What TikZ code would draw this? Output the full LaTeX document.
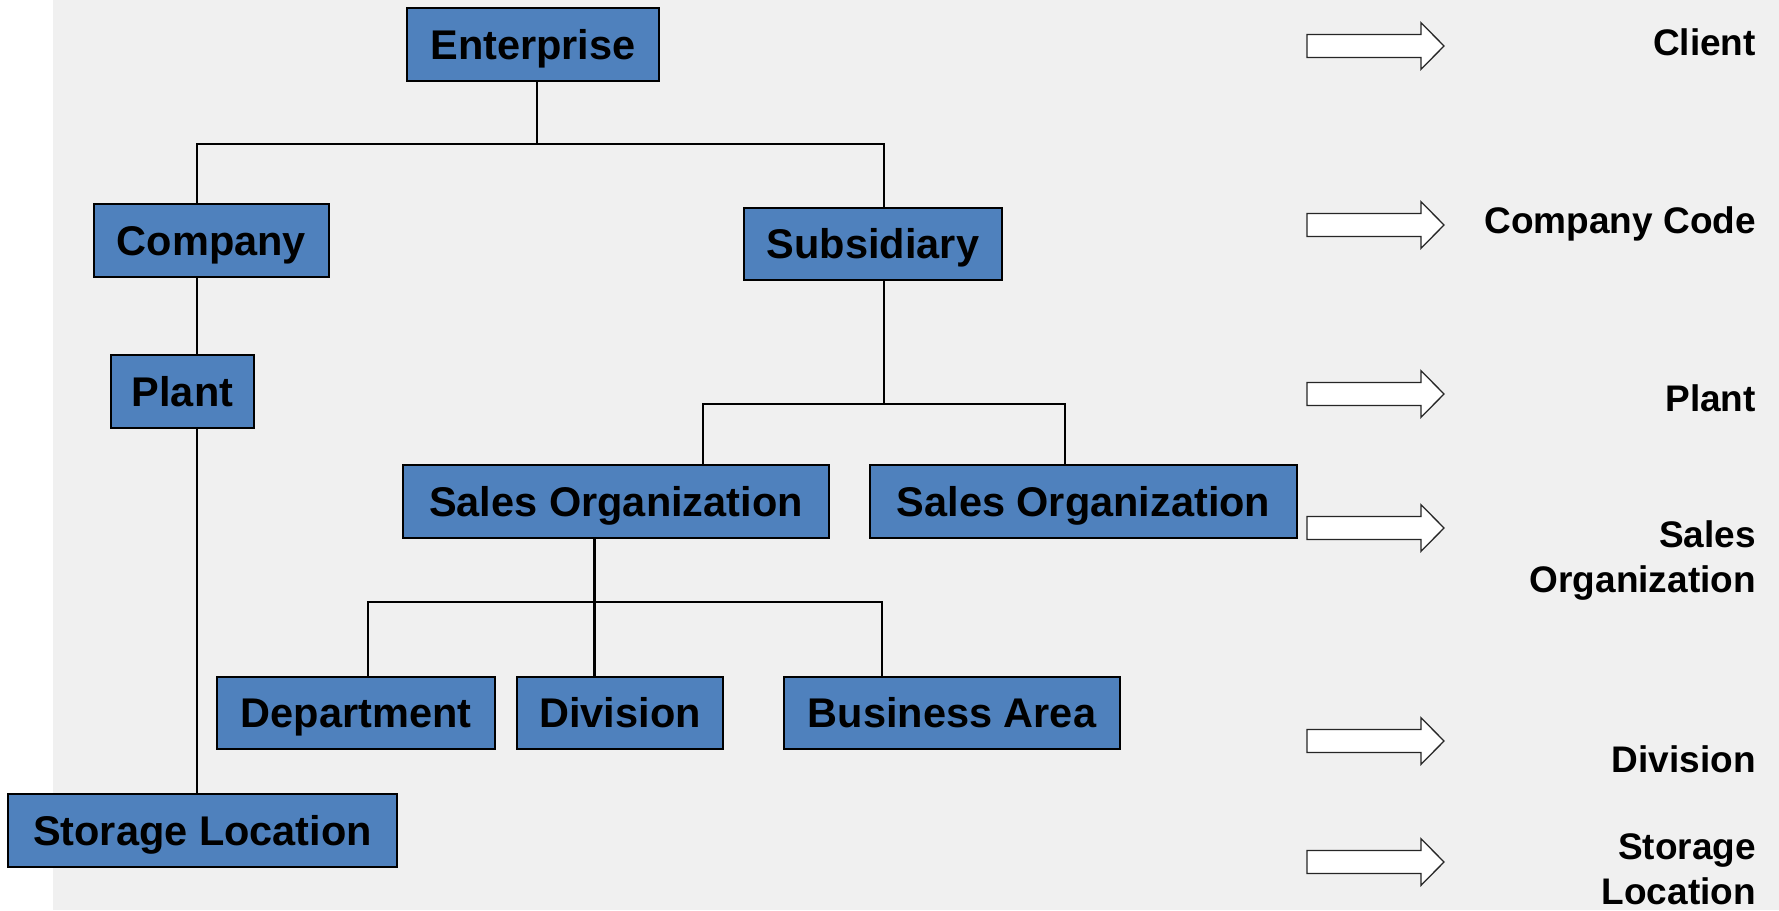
\documentclass[tikz,border=0pt]{standalone}
\usepackage{fontspec}
\setmainfont{Liberation Sans}
\definecolor{bgray}{HTML}{F0F0F0}
\definecolor{boxblue}{HTML}{4F81BD}
\begin{document}
\begin{tikzpicture}[x=1pt,y=-1pt,
  box/.style={draw=black, fill=boxblue, line width=2.5pt, inner sep=0pt,
    text height=29.7pt, text depth=0pt,
    font=\fontsize{41.5}{50}\selectfont\bfseries, text=black},
  conn/.style={draw=black, line width=2.2pt},
  lab/.style={inner sep=0pt, font=\fontsize{37}{45}\selectfont\bfseries, align=right, text=black},
  arrowline/.style={draw=black!85, fill=white, line width=1.3pt, line join=miter},
  blockarrow/.pic={\path[arrowline] (0,-11.5) -- (114,-11.5) -- (114,-23.3) -- (137,0) -- (114,23.3) -- (114,11.5) -- (0,11.5) -- cycle;}
]
\useasboundingbox (0,0) rectangle (1779,910);
\fill[white] (0,0) rectangle (1779,910);
\fill[bgray] (53,0) rectangle (1779,910);

% boxes
\node[box, minimum width=252pt, minimum height=73pt] (ent) at (533,44.5) {Enterprise};
\node[box, minimum width=235pt, minimum height=73pt] (comp) at (211.5,240.5) {Company};
\node[box, minimum width=258pt, minimum height=72pt] (sub) at (873,244) {Subsidiary};
\node[box, minimum width=143pt, minimum height=73pt] (plant) at (182.5,391.5) {Plant};
\node[box, minimum width=389pt, minimum height=73pt] (stor) at (202.5,830.5) {Storage Location};
\node[box, minimum width=426pt, minimum height=73pt] (so1) at (616,501.5) {Sales Organization};
\node[box, minimum width=427pt, minimum height=73pt] (so2) at (1083.5,501.5) {Sales Organization};
\node[box, minimum width=278pt, minimum height=72pt] (dep) at (356,713) {Department};
\node[box, minimum width=206pt, minimum height=72pt] (div) at (620,713) {Division};
\node[box, minimum width=336pt, minimum height=72pt] (bus) at (952,713) {Business Area};

% junction coordinates
\coordinate (eJ) at (537,144);
\coordinate (cX) at (197,0);
\coordinate (sX) at (884,0);
\coordinate (sJ) at (884,404);
\coordinate (aX) at (703,0);
\coordinate (bX) at (1065,0);
\coordinate (oJ) at (594.5,602);
\coordinate (dX) at (367.6,0);
\coordinate (gX) at (881.6,0);

% connectors
\draw[conn] (ent.south -| eJ) -- (eJ);
\draw[conn] (comp.north -| cX) |- (eJ);
\draw[conn] (sub.north -| sX) |- (eJ);
\draw[conn] (comp.south -| cX) -- (plant.north -| cX);
\draw[conn] (plant.south -| cX) -- (stor.north -| cX);
\draw[conn] (sub.south -| sJ) -- (sJ);
\draw[conn] (so1.north -| aX) |- (sJ);
\draw[conn] (so2.north -| bX) |- (sJ);
\draw[conn] (so1.south -| oJ) -- (div.north -| oJ);
\draw[conn] (dep.north -| dX) |- (oJ);
\draw[conn] (bus.north -| gX) |- (oJ);

% block arrows
\pic at (1307,46) {blockarrow};
\pic at (1307,225) {blockarrow};
\pic at (1307,394) {blockarrow};
\pic at (1307,528) {blockarrow};
\pic at (1307,741) {blockarrow};
\pic at (1307,862) {blockarrow};

% right labels
\node[lab, anchor=base east] (lclient) at (1756,55) {Client};
\node[lab, anchor=base east] (lcc) at (1756,233) {Company Code};
\node[lab, anchor=base east] (lplant) at (1756,411.5) {Plant};
\node[lab, anchor=base east] (lso) at (1756,592.5) {Sales\\Organization};
\node[lab, anchor=base east] (ldiv) at (1756,772) {Division};
\node[lab, anchor=base east] (lsl) at (1756,904) {Storage\\Location};
\end{tikzpicture}
\end{document}
